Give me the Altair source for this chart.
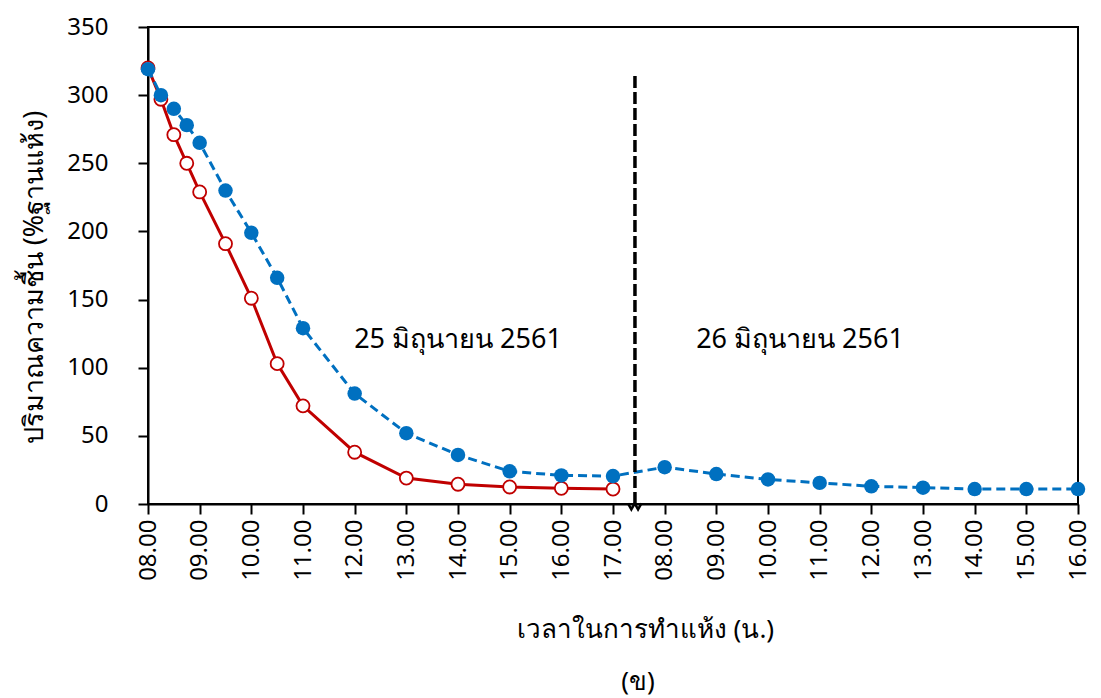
import altair as alt
import pandas as pd
import json

# Tick labels (index positions 0..18)
tick_labels = ["08.00", "09.00", "10.00", "11.00", "12.00", "13.00", "14.00", "15.00", "16.00", "17.00",
               "08.00", "09.00", "10.00", "11.00", "12.00", "13.00", "14.00", "15.00", "16.00"]

# Time positions (hours after 08.00 on day 1; day 2 starts at index 10)
red_time = [0, 0.25, 0.5, 0.75, 1, 1.5, 2, 2.5, 3, 4, 5, 6, 7, 8, 9]
red_moist = [320, 297, 271, 250, 229, 191, 151, 103, 72, 38, 19, 14.5, 12.5, 11.5, 11]

blue_time = [0, 0.25, 0.5, 0.75, 1, 1.5, 2, 2.5, 3, 4, 5, 6, 7, 8, 9,
             10, 11, 12, 13, 14, 15, 16, 17, 18]
blue_moist = [319, 300, 290, 278, 265, 230, 199, 166, 129, 81, 52, 36, 24, 21, 20.5,
              27, 22, 18, 15.5, 13, 12, 11, 11, 11]

day_labels = ["25 มิถุนายน 2561", "26 มิถุนายน 2561"]
day_label_x = [6.0, 12.62]
day_label_y = [120, 120]

divider_x = 9.425
divider_top = 315

# break marker on the x axis
brk_x = [9.29, 9.355, 9.42, 9.485, 9.55]
brk_y = [0.5, -4, 0.5, -4, 0.5]

red_df = pd.DataFrame({"t": red_time, "m": red_moist})
blue_df = pd.DataFrame({"t": blue_time, "m": blue_moist})
lab_df = pd.DataFrame({"t": day_label_x, "m": day_label_y, "txt": day_labels})
div_df = pd.DataFrame({"t": [divider_x], "m": [0], "m2": [divider_top]})
brk_df = pd.DataFrame({"t": brk_x, "m": brk_y, "o": list(range(len(brk_x)))})

FONT = "Noto Sans"
RED = "#C00000"
BLUE = "#0070C0"

label_expr = json.dumps(tick_labels) + "[datum.value]"

xscale = alt.Scale(domain=[0, 18], nice=False, zero=False)
yscale = alt.Scale(domain=[0, 350], nice=False)

x_axis = alt.Axis(values=list(range(19)), labelExpr=label_expr, labelAngle=-90,
                  title="เวลาในการทำแห้ง (น.)", grid=False, tickSize=10, labelPadding=5,
                  titlePadding=36, titleFontSize=26, titleX=497)
y_axis = alt.Axis(values=list(range(0, 351, 50)), title="ปริมาณความชื้น (%ฐานแห้ง)", grid=False,
                  tickSize=10, labelPadding=30, titlePadding=18, titleFontSize=27, titleY=250)

base_x = alt.X("t:Q", scale=xscale, axis=x_axis)
base_y = alt.Y("m:Q", scale=yscale, axis=y_axis)

blue_line = alt.Chart(blue_df).mark_line(color=BLUE, strokeWidth=3, strokeDash=[9, 5]).encode(
    x=base_x, y=base_y)
blue_pts = alt.Chart(blue_df).mark_point(filled=True, shape="circle", size=210, color=BLUE, opacity=1).encode(
    x="t:Q", y="m:Q")
red_line = alt.Chart(red_df).mark_line(color=RED, strokeWidth=3).encode(x="t:Q", y="m:Q")
red_pts = alt.Chart(red_df).mark_point(shape="circle", size=170, stroke=RED, fill="white",
                                       fillOpacity=1, strokeWidth=1.8, opacity=1).encode(
    x="t:Q", y="m:Q")

divider = alt.Chart(div_df).mark_rule(color="black", strokeWidth=3.5, strokeDash=[12, 4]).encode(
    x="t:Q", y="m:Q", y2="m2:Q")

brk = alt.Chart(brk_df).mark_line(color="black", strokeWidth=2.5, clip=False).encode(
    x="t:Q", y="m:Q", order="o:Q")

labels = alt.Chart(lab_df).mark_text(font=FONT, fontSize=27, color="black").encode(
    x="t:Q", y="m:Q", text="txt:N")

sub = alt.Chart(pd.DataFrame({"txt": ["(ข)"]})).mark_text(font=FONT, fontSize=26, color="black").encode(
    x=alt.value(490), y=alt.value(655), text="txt:N")

chart = alt.layer(red_line, blue_line, divider, red_pts, blue_pts, brk, labels, sub).properties(
    width=930, height=477,
    padding={"left": 148, "top": 27, "right": 23, "bottom": 194},
    autosize=alt.AutoSizeParams(type="none"),
).configure(background="white").configure_view(stroke="black", strokeWidth=2).configure_axis(
    domainColor="black", domainWidth=2, tickColor="black", tickWidth=2,
    labelFont=FONT, titleFont=FONT, labelFontSize=24,
    labelColor="black", titleColor="black", titleFontWeight="normal"
)

chart.save("out.html", embed_options={"renderer": "svg", "actions": False})
